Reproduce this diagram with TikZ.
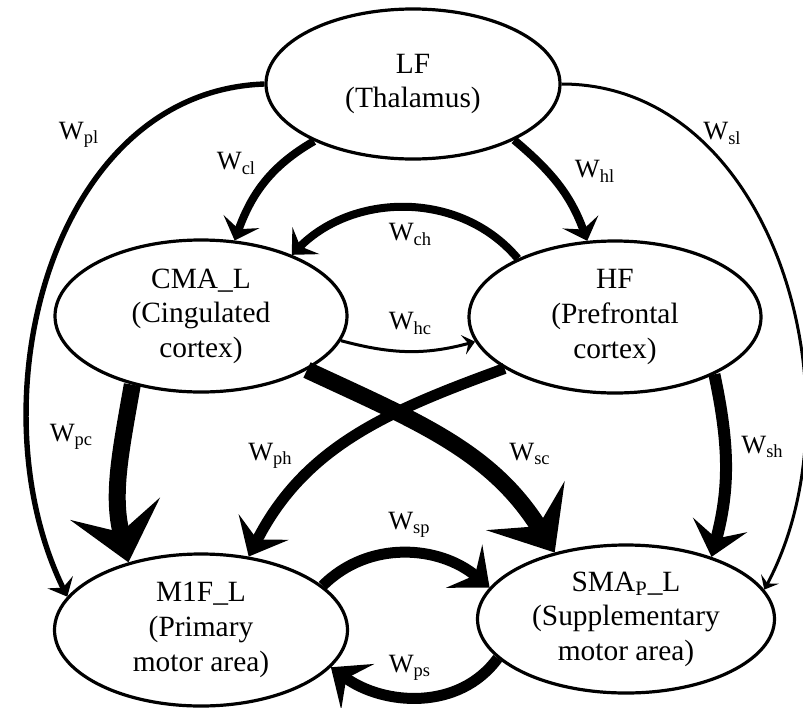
\documentclass[tikz,border=0pt]{standalone}
\usepackage{fontspec}
\setmainfont{Liberation Serif}
\usetikzlibrary{shapes.geometric,arrows.meta}
\newcommand\regionfont{\fontsize{14.7}{17.3}\selectfont}
\newcommand\weightfont{\fontsize{13.2}{15}\selectfont}
\tikzset{
  region/.style={draw, ellipse, line width=1.6pt, fill=white, align=center,
    inner sep=0pt, minimum width=146pt, minimum height=76pt, font=\regionfont},
  weight/.style={inner sep=0pt, font=\weightfont},
  fine link/.style={line width=1.5pt, -{Stealth[length=6pt,width=10pt,inset=2.5pt]}},
  light link/.style={line width=2.7pt, -{Stealth[length=8pt,width=14pt,inset=3pt]}},
  medium link/.style={line width=4pt, -{Stealth[length=10pt,width=19pt,inset=4pt]}},
  strong link/.style={line width=5.5pt, -{Stealth[length=16.5pt,width=28pt,inset=7pt]}},
  heavy link/.style={line width=8.5pt, -{Stealth[length=27.5pt,width=46pt,inset=12pt]}}
}

\begin{document}
\begin{tikzpicture}[x=0.5pt, y=0.5pt]
  \useasboundingbox (0,0) rectangle (803,-707);

  % brain regions
  \node [region, minimum width=147pt, minimum height=75pt] (LF) at (413,-84) {LF\\(Thalamus)};
  \node [region] (CMA) at (201,-316) {CMA\_L\\(Cingulated\\cortex)};
  \node [region] (HF) at (615,-317) {HF\\(Prefrontal\\cortex)};
  \node [region, minimum width=146.5pt] (M1F) at (201,-630) {M1F\_L\\(Primary\\motor area)};
  \node [region, minimum width=148.5pt, minimum height=74pt] (SMA) at (626,-619)
    {SMA\textsubscript{P}\_L\\(Supplementary\\motor area)};

  % from thalamus
  \draw [light link] (LF.180) to[out=182, in=116] (M1F.166);
  \draw [fine link] (LF.0) to[out=0, in=62] (SMA.12);
  \draw [medium link] (LF.210) to[out=210, in=70] (CMA.66);
  \draw [medium link] (LF.331) to[out=-40, in=110] (HF.110);

  % between cortices
  \draw [medium link] (HF.149) to[out=130, in=45] (CMA.34);
  \draw [fine link] (CMA.-10) to[out=-15, in=195] (HF.190);

  % down to motor areas
  \draw [heavy link] (CMA.225) to[out=-100, in=104] (M1F.137.5);
  \draw [heavy link] (CMA.333) to[out=-25, in=122] (SMA.137);
  \draw [strong link] (HF.205) to[out=200, in=63] (M1F.57);
  \draw [strong link, line width=6pt] (HF.330) to[out=-78, in=75] (SMA.36);

  % motor loop
  \draw [strong link] (M1F.20) to[out=45, in=140] (SMA.167);
  \draw [strong link] (SMA.197) to[out=234, in=-36] (M1F.344);

  % weights
  \node [weight] (w pl) at (79,-135) {W\textsubscript{pl}};
  \node [weight] (w cl) at (236.5,-163.5) {W\textsubscript{cl}};
  \node [weight] (w hl) at (595,-171.5) {W\textsubscript{hl}};
  \node [weight] (w sl) at (722.5,-133.5) {W\textsubscript{sl}};
  \node [weight] (w ch) at (410.5,-234.5) {W\textsubscript{ch}};
  \node [weight] (w hc) at (410.5,-323.5) {W\textsubscript{hc}};
  \node [weight] (w pc) at (71.5,-437) {W\textsubscript{pc}};
  \node [weight] (w ph) at (270.5,-456) {W\textsubscript{ph}};
  \node [weight] (w sc) at (530,-454) {W\textsubscript{sc}};
  \node [weight] (w sh) at (762.5,-447) {W\textsubscript{sh}};
  \node [weight] (w sp) at (409.5,-525) {W\textsubscript{sp}};
  \node [weight] (w ps) at (410,-668) {W\textsubscript{ps}};
\end{tikzpicture}
\end{document}
